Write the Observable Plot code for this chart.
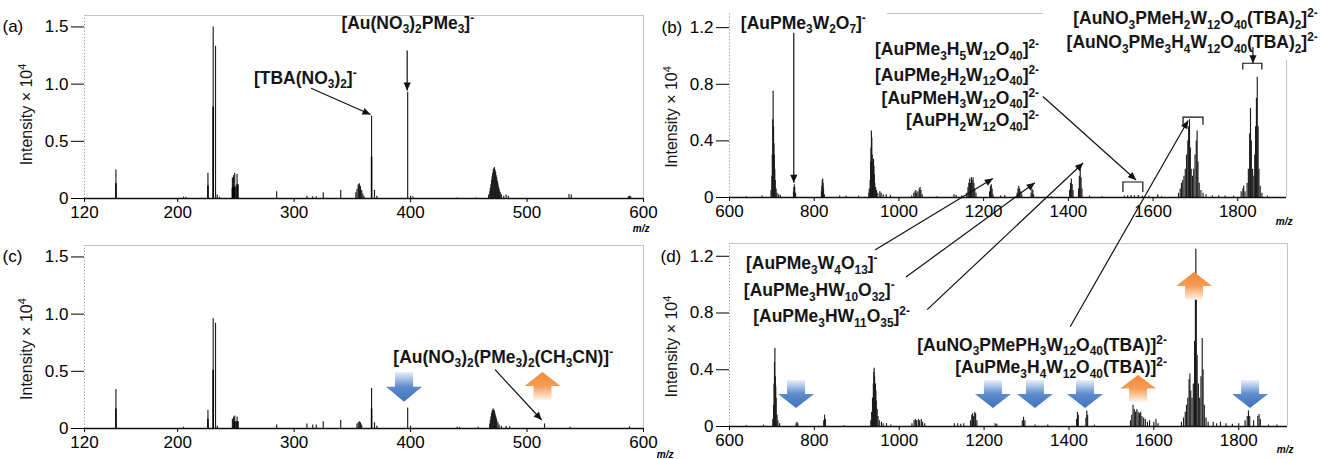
<!DOCTYPE html>
<html><head><meta charset="utf-8">
<script src="https://cdn.jsdelivr.net/npm/d3@7"></script>
<script src="https://cdn.jsdelivr.net/npm/@observablehq/plot@0.6"></script>
<style>
body{margin:0;background:#fff;}
#wrap{position:relative;width:1325px;height:459px;overflow:hidden;background:#fff;}
#wrap svg{position:absolute;left:0;top:0;background:transparent !important;max-width:none !important;}
</style></head><body><div id="wrap"></div>
<script>
const W = 1325, H = 459;
const FONT = '"Liberation Sans", Arial, Helvetica, sans-serif';

// ---------- data (m/z, intensity ×10^4, optional dark core height) ----------
const aPeaks = [[147,0.25,0.13],[205,0.012],[207,0.01],[226,0.22,0.11],[230.5,1.5,0.8],[232.5,1.33],[234,0.03],[236,0.01],
[247,0.18,0.09],[248,0.2,0.1],[249,0.22,0.1],[250,0.1],[251,0.21,0.12],[252,0.12],
[285,0.06],[311,0.02],[316,0.015],[319,0.015],[325,0.05],[340,0.07],
[353,0.05],[354,0.08],[355,0.12],[355.5,0.11],[356,0.13],[356.5,0.11],[357,0.1],[358,0.07],[359,0.04],[360,0.02],
[366.5,0.72,0.36],[369,0.07],[371,0.02],[397.5,0.93],[400,0.02],[402,0.015],[440,0.005],[456,0.005],
[467,0.03],[468,0.06],[468.5,0.09],[469,0.12],[469.5,0.16],[470,0.19],[470.5,0.22],[471,0.25],[471.5,0.26],[472,0.27],[472.5,0.25],[473,0.23],[473.5,0.2],[474,0.18],[474.5,0.15],[475,0.13],[475.5,0.1],[476,0.08],[476.5,0.06],[477,0.05],[478,0.03],[480,0.02],[482,0.03],[484,0.02],
[536,0.035],[538,0.03],[587,0.015],[588,0.02],[589,0.015]];

const cPeaks = [[147,0.34,0.17],[205,0.01],[226,0.16,0.08],[230.5,0.96,0.51],[232.5,0.92],[234,0.02],
[247,0.08],[248,0.1],[249,0.11,0.06],[250,0.06],[251,0.1,0.06],[252,0.06],
[285,0.03],[311,0.04],[316,0.03],[319,0.03],[325,0.06],[340,0.07],
[354,0.04],[355,0.05],[356,0.06],[357,0.05],[358,0.03],
[366.5,0.35,0.17],[369,0.05],[371,0.02],[397.5,0.18],[400,0.02],[440,0.01],[442,0.01],[458,0.01],
[468,0.04],[468.5,0.07],[469,0.1],[469.5,0.13],[470,0.15],[470.5,0.16],[471,0.17],[471.5,0.16],[472,0.15],[472.5,0.13],[473,0.11],[473.5,0.09],[474,0.07],[475,0.05],[476,0.03],[478,0.02],[482,0.02],[485,0.015],
[515,0.04],[537,0.01],[588,0.015]];

const bPeaks = [[640,0.005],[677,0.01],
[698,0.05],[700,0.15],[701,0.3],[702,0.55],[703,0.75],[704,0.5],[705,0.38],[706,0.3],[707,0.2],[708,0.12],[710,0.06],[712,0.03],[716,0.02],[720,0.015],
[751,0.04],[752,0.07],[753,0.09],[754,0.07],[756,0.03],
[817,0.04],[818,0.08],[819,0.12],[820,0.13],[821,0.1],[822,0.06],[824,0.02],
[860,0.01],[875,0.008],[905,0.008],
[929,0.03],[930,0.06],[932,0.12],[933,0.25],[934,0.35],[935,0.47],[936,0.42],[937,0.3],[938,0.2],[939,0.25],[940,0.27],[941,0.22],[942,0.16],[943,0.1],[945,0.07],[947,0.05],[950,0.03],[955,0.04],[958,0.03],[963,0.02],[970,0.02],[980,0.015],
[1030,0.01],[1035,0.03],[1038,0.04],[1040,0.05],[1042,0.03],[1045,0.04],[1048,0.06],[1050,0.07],[1052,0.05],[1055,0.02],
[1090,0.005],[1130,0.02],[1135,0.015],[1148,0.01],
[1160,0.03],[1163,0.07],[1165,0.1],[1167,0.13],[1169,0.1],[1171,0.14],[1173,0.12],[1175,0.14],[1177,0.1],[1179,0.06],[1182,0.03],
[1214,0.04],[1216,0.08],[1218,0.09],[1220,0.06],[1222,0.02],[1240,0.01],[1250,0.015],
[1279,0.03],[1281,0.06],[1283,0.08],[1285,0.06],[1288,0.04],[1290,0.02],
[1312,0.03],[1314,0.06],[1316,0.05],[1318,0.02],[1360,0.005],
[1403,0.05],[1405,0.1],[1407,0.13],[1409,0.09],[1411,0.05],
[1424,0.06],[1426,0.15],[1428,0.2],[1430,0.14],[1432,0.06],[1450,0.01],[1480,0.005],
[1532,0.01],[1540,0.012],[1548,0.015],[1556,0.012],[1565,0.015],[1575,0.01],[1590,0.008],[1611,0.02],[1620,0.005],
[1660,0.03],[1664,0.06],[1667,0.1],[1670,0.12],[1673,0.15],[1676,0.2],[1679,0.3],[1682,0.4],[1684,0.5],[1686,0.55],[1688,0.35],[1690,0.2],[1693,0.15],[1696,0.2],[1699,0.3],[1702,0.4],[1704,0.47],[1706,0.25],[1709,0.1],[1713,0.05],[1718,0.03],[1725,0.02],
[1740,0.01],[1755,0.012],[1770,0.01],[1790,0.01],
[1808,0.04],[1812,0.06],[1814,0.08],[1817,0.04],[1822,0.1],[1825,0.2],[1828,0.45],[1830,0.63],[1832,0.4],[1835,0.2],[1838,0.15],[1840,0.3],[1842,0.5],[1844,0.7],[1846,0.85],[1848,0.5],[1850,0.2],[1853,0.08],[1857,0.03],[1870,0.01]];

const dPeaks = [[640,0.005],[680,0.01],
[702,0.05],[704,0.15],[705,0.3],[706,0.45],[707,0.55],[708,0.35],[709,0.28],[710,0.2],[712,0.08],[714,0.04],[718,0.02],
[757,0.02],[759,0.03],[761,0.02],[822,0.04],[824,0.08],[826,0.05],[870,0.005],
[933,0.04],[935,0.1],[937,0.2],[939,0.3],[940,0.38],[941,0.41],[942,0.35],[943,0.28],[944,0.3],[945,0.25],[946,0.18],[948,0.12],[950,0.07],[953,0.04],[958,0.03],[962,0.02],[970,0.02],[980,0.01],
[1030,0.02],[1035,0.04],[1038,0.05],[1041,0.04],[1045,0.05],[1048,0.04],[1052,0.05],[1055,0.03],[1060,0.02],
[1130,0.02],[1138,0.02],[1145,0.015],[1152,0.02],
[1168,0.04],[1171,0.08],[1173,0.09],[1175,0.07],[1178,0.1],[1180,0.09],[1183,0.04],[1226,0.02],[1230,0.015],
[1290,0.04],[1293,0.065],[1296,0.04],[1320,0.01],[1350,0.01],
[1418,0.05],[1420,0.1],[1422,0.08],[1440,0.06],[1442,0.11],[1444,0.08],[1460,0.01],
[1545,0.04],[1548,0.08],[1551,0.15],[1554,0.12],[1557,0.1],[1560,0.12],[1563,0.1],[1566,0.09],[1569,0.1],[1572,0.07],[1576,0.06],[1580,0.05],[1585,0.03],[1590,0.04],[1600,0.03],[1605,0.05],[1610,0.02],
[1665,0.03],[1670,0.06],[1674,0.1],[1677,0.15],[1680,0.2],[1683,0.33],[1685,0.37],[1687,0.25],[1690,0.2],[1693,0.3],[1696,0.6],[1698,0.95],[1699,1.25],[1700,0.9],[1702,0.5],[1705,0.3],[1708,0.2],[1711,0.35],[1714,0.62],[1716,0.4],[1719,0.15],[1723,0.06],[1728,0.03],
[1740,0.03],[1748,0.02],[1757,0.03],[1770,0.02],[1785,0.015],[1800,0.02],
[1815,0.04],[1820,0.07],[1823,0.11],[1826,0.07],[1835,0.04],[1845,0.07],[1848,0.085],[1851,0.05],[1870,0.01],[1890,0.01]];

const lowTicksX = [120,200,300,400,500,600];
const highTicksX = [600,800,1000,1200,1400,1600,1800];
const lowTicksY = [0,0.5,1.0,1.5];
const highTicksY = [0,0.4,0.8,1.2];
const tags = ["(a)","(b)","(c)","(d)"];
const yLabel = "Intensity × 10^4";
const xLabel = "m/z";

// annotation texts (data coordinates of the panel they sit in)
const labels = [
  {p:"a", m:398, v:1.48, t:"[Au(NO_3)_2PMe_3]^-", a:"middle"},
  {p:"a", m:310, v:1.0, t:"[TBA(NO_3)_2]^-", a:"middle"},
  {p:"c", m:480, v:0.57, t:"[Au(NO_3)_2(PMe_3)_2(CH_3CN)]^-", a:"middle"},
  {p:"b", m:628, v:1.19, t:"[AuPMe_3W_2O_7]^-", a:"start"},
  {p:"b", m:1332, v:1.0, t:"[AuPMe_3H_5W_12O_40]^2-", a:"end"},
  {p:"b", m:1332, v:0.82, t:"[AuPMe_2H_2W_12O_40]^2-", a:"end"},
  {p:"b", m:1332, v:0.66, t:"[AuPMeH_3W_12O_40]^2-", a:"end"},
  {p:"b", m:1332, v:0.50, t:"[AuPH_2W_12O_40]^2-", a:"end"},
  {p:"b", m:1990, v:1.22, t:"[AuNO_3PMeH_2W_12O_40(TBA)_2]^2-", a:"end"},
  {p:"b", m:1990, v:1.05, t:"[AuNO_3PMe_3H_4W_12O_40(TBA)_2]^2-", a:"end"},
  {p:"d", m:640, v:1.106, t:"[AuPMe_3W_4O_13]^-", a:"start"},
  {p:"d", m:635, v:0.916, t:"[AuPMe_3HW_10O_32]^-", a:"start"},
  {p:"d", m:657, v:0.733, t:"[AuPMe_3HW_11O_35]^2-", a:"start"},
  {p:"d", m:1632, v:0.53, t:"[AuNO_3PMePH_3W_12O_40(TBA)]^2-", a:"end"},
  {p:"d", m:1632, v:0.373, t:"[AuPMe_3H_4W_12O_40(TBA)]^2-", a:"end"}
];
const pointers = [
  {from:["a",397.5,1.29], to:["a",397.5,0.94]},
  {from:["a",315,0.96], to:["a",366,0.73]},
  {from:["c",473,0.51], to:["c",513,0.07]},
  {from:["b",753,1.16], to:["b",753,0.1]},
  {from:["b",1341,0.71], to:["b",1561,0.12]},
  {from:["b",1837,1.06], to:["b",1837,0.945]},
  {from:["d",944,1.24], to:["b",1223,0.13]},
  {from:["d",1017,1.05], to:["b",1322,0.10]},
  {from:["d",1067,0.82], to:["b",1436,0.24]},
  {from:["d",1404,0.70], to:["b",1684,0.54]}
];
const brackets = [[1530,1577,0.106,0.035],[1672,1719,0.565,0.51],[1813,1858,0.945,0.90]];
const downArrows = [{p:"c",m:394.8,top:0.49,bot:0.23},
  {p:"d",m:758,top:0.324,bot:0.127},{p:"d",m:1222,top:0.324,bot:0.127},{p:"d",m:1321,top:0.324,bot:0.127},
  {p:"d",m:1439,top:0.324,bot:0.127},{p:"d",m:1828,top:0.324,bot:0.127}];
const upArrows = [{p:"c",m:513.7,top:0.49,bot:0.245},{p:"d",m:1564,top:0.36,bot:0.17},{p:"d",m:1696,top:1.085,bot:0.89}];
// where each panel's rotated y title is centred (in the panel's own y units)
const yLabelMid = {a: 0.73, b: 0.565, c: 0.69, d: 0.56};

// ---------- panels ----------
const fmt = d => d === 0 ? "0" : d3.format(".1f")(d);
function panel(cfg) {
  const {peaks, xd, yd, xt, yt, L, R, T, B, tag, tagDx, fTop, fRight, mzDx, mzDy} = cfg;
  return Plot.plot({
    width: W, height: H,
    marginLeft: L, marginRight: W - R, marginTop: T, marginBottom: H - B,
    style: {background: "transparent", fontFamily: FONT, overflow: "visible"},
    x: {domain: xd}, y: {domain: yd},
    marks: [
      Plot.ruleY([{y: yd[1], x1: fTop[0], x2: fTop[1]}], {y: "y", x1: "x1", x2: "x2", stroke: "#c4c4c4", strokeWidth: 1}),
      Plot.ruleX([{x: xd[1], y2: fRight}], {x: "x", y1: 0, y2: "y2", stroke: "#c4c4c4", strokeWidth: 1}),
      Plot.ruleX([{x: xd[0]}], {x: "x", y1: 0, y2: yd[1], stroke: "#999", strokeDasharray: "1.2,2"}),
      Plot.ruleX(peaks, {x: d => d[0], y1: 0, y2: d => d[1], stroke: "#1c1c1c", strokeWidth: 1.15}),
      Plot.ruleX(peaks.filter(d => d[2]), {x: d => d[0], y1: 0, y2: d => d[2], stroke: "#000", strokeWidth: 1.5}),
      Plot.ruleY([0], {stroke: "#111", strokeWidth: 1.3}),
      Plot.axisX({ticks: xt, tickSize: 4, tickPadding: 3, fontSize: 17, label: null, tickFormat: d => String(d)}),
      Plot.axisY({ticks: yt, tickSize: 13, tickPadding: 3, fontSize: 17, label: null, tickFormat: fmt}),
      Plot.text([{x: xd[0], y: yt[yt.length - 1], t: tag}], {x: "x", y: "y", text: "t", dx: tagDx, textAnchor: "start", fontSize: 17}),
      Plot.text([xLabel], {frameAnchor: "bottom-right", dx: mzDx, dy: mzDy, textAnchor: "end", fontStyle: "italic", fontWeight: "bold", fontSize: 10})
    ]
  });
}

const wrap = document.getElementById("wrap");
const charts = {
  a: panel({peaks: aPeaks, xd: [120,600], yd: [0,1.6], xt: lowTicksX, yt: lowTicksY, L: 84, R: 643, T: 15, B: 198, tag: tags[0], tagDx: -82, fTop: [120,600], fRight: 1.6, mzDx: 6, mzDy: 33}),
  b: panel({peaks: bPeaks, xd: [600,1915], yd: [0,1.3], xt: highTicksX, yt: highTicksY, L: 729, R: 1286, T: 13, B: 197, tag: tags[1], tagDx: -68, fTop: [973,1342], fRight: 0.97, mzDx: 6, mzDy: 27}),
  c: panel({peaks: cPeaks, xd: [120,600], yd: [0,1.6], xt: lowTicksX, yt: lowTicksY, L: 84, R: 643, T: 245, B: 428, tag: tags[2], tagDx: -82, fTop: [120,600], fRight: 1.6, mzDx: 30, mzDy: 29}),
  d: panel({peaks: dPeaks, xd: [600,1915], yd: [0,1.29], xt: highTicksX, yt: highTicksY, L: 729, R: 1287, T: 243, B: 426, tag: tags[3], tagDx: -69, fTop: [600,1915], fRight: 1.29, mzDx: 6, mzDy: 26})
};
for (const k of ["a","b","c","d"]) wrap.appendChild(charts[k]);

// ---------- annotation overlay, positioned through the panels' scales ----------
function P(p, m, v) { const c = charts[p]; return [c.scale("x").apply(m), c.scale("y").apply(v)]; }
const svg = d3.select(wrap).append("svg").attr("width", W).attr("height", H).attr("viewBox", `0 0 ${W} ${H}`);
const defs = svg.append("defs");
defs.append("marker").attr("id","ah").attr("viewBox","0 0 10 10").attr("refX",10).attr("refY",5)
  .attr("markerWidth",9).attr("markerHeight",8).attr("markerUnits","userSpaceOnUse").attr("orient","auto")
  .append("path").attr("d","M0,0.5 L10,5 L0,9.5 Z").attr("fill","#111");
const gb = defs.append("linearGradient").attr("id","gblue").attr("x1",0).attr("y1",0).attr("x2",0).attr("y2",1);
gb.append("stop").attr("offset",0).attr("stop-color","#e9f0fa");
gb.append("stop").attr("offset",0.5).attr("stop-color","#5d8ccc");
gb.append("stop").attr("offset",1).attr("stop-color","#3f72bd");
const go = defs.append("linearGradient").attr("id","gorange").attr("x1",0).attr("y1",0).attr("x2",0).attr("y2",1);
go.append("stop").attr("offset",0).attr("stop-color","#f28a36");
go.append("stop").attr("offset",0.5).attr("stop-color","#f59c55");
go.append("stop").attr("offset",1).attr("stop-color","#fff3ea");

function richText(parent, str, size, weight) {
  const t = parent.attr("font-size", size).attr("font-weight", weight).attr("font-family", FONT).attr("fill", "#141414");
  const re = /(_\d+|\^[0-9\-]+|[^_^]+)/g;
  let m, shift = 0;
  while ((m = re.exec(str))) {
    const s = m[0];
    let target = 0, txt = s, small = false;
    if (s[0] === "_") { target = 0.26 * size; txt = s.slice(1); small = true; }
    else if (s[0] === "^") { target = -0.4 * size; txt = s.slice(1); small = true; }
    const ts = t.append("tspan").text(txt).attr("dy", target - shift);
    if (small) ts.attr("font-size", size * 0.68);
    shift = target;
  }
  return t;
}
for (const l of labels) {
  const [x, y] = P(l.p, l.m, l.v);
  richText(svg.append("text").attr("x", x).attr("y", y).attr("text-anchor", l.a), l.t, 17.5, "bold");
}
// rotated y titles
for (const k of ["a","b","c","d"]) {
  const c = charts[k];
  const x = c.scale("x").apply(c.scale("x").domain[0]) - 52;
  const y = c.scale("y").apply(yLabelMid[k]);
  richText(svg.append("text").attr("text-anchor", "middle").attr("transform", `translate(${x},${y}) rotate(-90)`), yLabel, 16, "normal");
}

for (const b of brackets) {
  const [x1, yt] = P("b", b[0], b[2]); const [x2, yl] = P("b", b[1], b[3]);
  svg.append("path").attr("d", `M${x1},${yl}V${yt}H${x2}V${yl}`).attr("fill","none").attr("stroke","#111").attr("stroke-width",1.2);
}
for (const a of pointers) {
  const [x1, y1] = P(...a.from); const [x2, y2] = P(...a.to);
  svg.append("line").attr("x1",x1).attr("y1",y1).attr("x2",x2).attr("y2",y2)
    .attr("stroke","#111").attr("stroke-width",1.2).attr("marker-end","url(#ah)");
}
const AW = 36, SW = 18;
for (const a of downArrows) {
  const [cx, ty] = P(a.p, a.m, a.top); const [, by] = P(a.p, a.m, a.bot); const h = (by - ty) * 0.5;
  svg.append("path").attr("d", `M${cx-SW/2},${ty}H${cx+SW/2}V${by-h}H${cx+AW/2}L${cx},${by}L${cx-AW/2},${by-h}H${cx-SW/2}Z`).attr("fill","url(#gblue)");
}
for (const a of upArrows) {
  const [cx, ty] = P(a.p, a.m, a.top); const [, by] = P(a.p, a.m, a.bot); const h = (by - ty) * 0.5;
  svg.append("path").attr("d", `M${cx},${ty}L${cx+AW/2},${ty+h}H${cx+SW/2}V${by}H${cx-SW/2}V${ty+h}H${cx-AW/2}Z`).attr("fill","url(#gorange)");
}
</script></body></html>
